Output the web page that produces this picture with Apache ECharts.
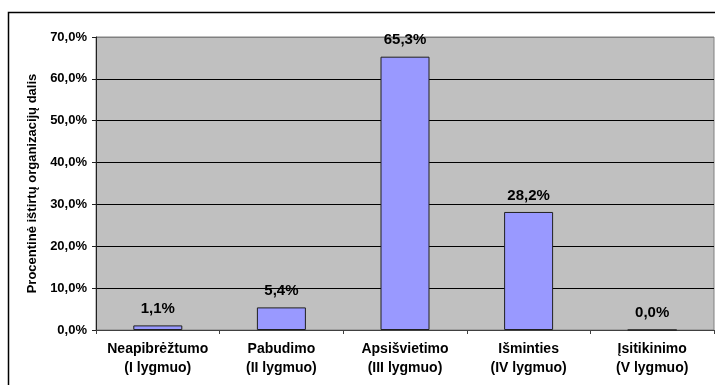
<!DOCTYPE html>
<html>
<head>
<meta charset="utf-8">
<script src="https://cdn.jsdelivr.net/npm/echarts@6/dist/echarts.min.js"></script>
<style>
  html, body { margin: 0; padding: 0; background: #fff; }
  #chart { width: 715px; height: 385px; }
</style>
</head>
<body>
<div id="chart"></div>
<script>
// Organisational wisdom levels: share of surveyed organisations (%)
const categories = [
  'Neapibrėžtumo\n(I lygmuo)',
  'Pabudimo\n(II lygmuo)',
  'Apsišvietimo\n(III lygmuo)',
  'Išminties\n(IV lygmuo)',
  'Įsitikinimo\n(V lygmuo)'
];
const shares = [1.1, 5.4, 65.3, 28.2, 0.0];
const axisTitle = 'Procentinė ištirtų organizacijų dalis';

const fmtPct = v => v.toFixed(1).replace('.', ',') + '%';
const font = '"Liberation Sans", Arial, sans-serif';

const chart = echarts.init(document.getElementById('chart'));
chart.setOption({
  animation: false,
  backgroundColor: '#ffffff',
  textStyle: { fontFamily: font },
  graphic: [{
    type: 'rect',
    shape: { x: 8.5, y: 12.5, width: 800, height: 500 },
    style: { fill: 'none', stroke: '#000', lineWidth: 1.5 },
    silent: true,
    z: 10
  }],
  grid: {
    left: 96, right: 1, top: 37, bottom: 55,
    show: true,
    backgroundColor: '#c0c0c0',
    borderColor: '#808080',
    borderWidth: 1
  },
  xAxis: {
    type: 'category',
    data: categories,
    axisLine: { lineStyle: { color: '#404040', width: 1 } },
    axisTick: { show: true, length: 4, inside: false, lineStyle: { color: '#404040' } },
    axisLabel: {
      margin: 10,
      color: '#000',
      fontFamily: font,
      fontWeight: 'bold',
      fontSize: 14,
      lineHeight: 19,
      interval: 0
    }
  },
  yAxis: {
    type: 'value',
    min: 0,
    max: 70,
    interval: 10,
    name: axisTitle,
    nameLocation: 'middle',
    nameGap: 57,
    nameTextStyle: { color: '#000', fontFamily: font, fontWeight: 'bold', fontSize: 13 },
    axisLine: { show: true, lineStyle: { color: '#202020', width: 1 } },
    axisTick: { show: true, length: 4, lineStyle: { color: '#202020' } },
    axisLabel: {
      margin: 9,
      color: '#000',
      fontFamily: font,
      fontWeight: 'bold',
      fontSize: 13,
      formatter: v => fmtPct(v)
    },
    splitLine: {
      show: true,
      lineStyle: {
        color: ['#808080', '#000', '#000', '#000', '#000', '#000', '#000', '#808080'],
        width: 1
      }
    }
  },
  series: [{
    type: 'bar',
    data: shares,
    barWidth: 49,
    itemStyle: { color: '#9999ff', borderColor: '#202020', borderWidth: 1 },
    label: {
      show: true,
      position: 'top',
      distance: 9,
      color: '#000',
      fontFamily: font,
      fontWeight: 'bold',
      fontSize: 15,
      formatter: p => fmtPct(p.value)
    }
  }]
});
</script>
</body>
</html>
